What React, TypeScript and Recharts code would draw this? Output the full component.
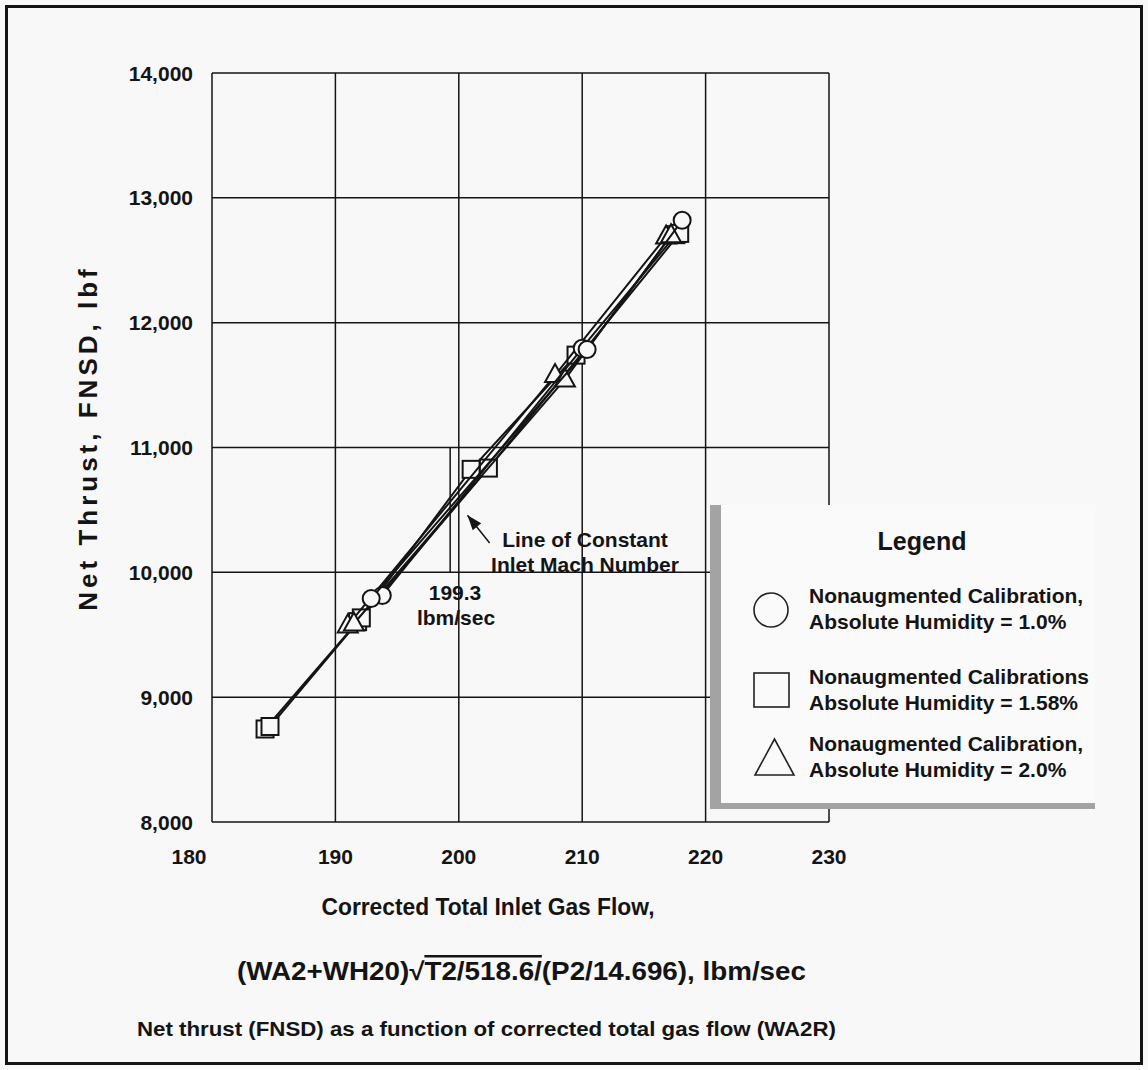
// Net thrust vs corrected total inlet gas flow, three humidity levels
import { ScatterChart, Scatter, XAxis, YAxis, CartesianGrid, ReferenceLine, ReferenceDot } from "recharts";

const FONT = '"Liberation Sans", Arial, Helvetica, sans-serif';
const INK = "#141414";
const PAPER = "#f8f8f8";

const xTicks = [180, 190, 200, 210, 220, 230];
const yTicks = [8000, 9000, 10000, 11000, 12000, 13000, 14000];

// humidity 1.0 %
const circleA = [
  { x: 192.9, y: 9790 },
  { x: 210.4, y: 11785 },
  { x: 218.1, y: 12820 },
];
const circleB = [
  { x: 193.8, y: 9815 },
  { x: 210.0, y: 11795 },
];
// humidity 1.58 %
const squareA = [
  { x: 184.3, y: 8745 },
  { x: 191.8, y: 9605 },
  { x: 201.0, y: 10825 },
  { x: 209.5, y: 11740 },
  { x: 217.6, y: 12705 },
];
const squareB = [
  { x: 184.7, y: 8765 },
  { x: 192.1, y: 9635 },
  { x: 202.4, y: 10835 },
  { x: 217.9, y: 12715 },
];
// humidity 2.0 %
const triangleA = [
  { x: 191.0, y: 9575 },
  { x: 207.8, y: 11580 },
  { x: 216.8, y: 12690 },
];
const triangleB = [
  { x: 191.5, y: 9590 },
  { x: 208.6, y: 11545 },
  { x: 217.2, y: 12700 },
];

const machLine = 199.3;
const arrowTail = { x: 202.5, y: 10235 };
const arrowHead = { x: 200.7, y: 10458 };

const legendItems = [
  { shape: "circle", lines: ["Nonaugmented Calibration,", "Absolute Humidity = 1.0%"] },
  { shape: "square", lines: ["Nonaugmented Calibrations", "Absolute Humidity = 1.58%"] },
  { shape: "triangle", lines: ["Nonaugmented Calibration,", "Absolute Humidity = 2.0%"] },
];

const lineStyle = { stroke: INK, strokeWidth: 2 };

const Circle = (p: any) => <circle cx={p.cx} cy={p.cy} r={8.5} fill={PAPER} stroke={INK} strokeWidth={2} />;
const Square = (p: any) => <rect x={p.cx - 8.5} y={p.cy - 8.5} width={17} height={17} fill={PAPER} stroke={INK} strokeWidth={2} />;
const Triangle = (p: any) => (
  <polygon
    points={`${p.cx},${p.cy - 11} ${p.cx - 10},${p.cy + 7} ${p.cx + 10},${p.cy + 7}`}
    fill={PAPER}
    stroke={INK}
    strokeWidth={2}
  />
);

const ArrowHead = (p: any) => (
  <polygon
    points={`${p.cx},${p.cy} ${p.cx - 15},${p.cy - 5.5} ${p.cx - 15},${p.cy + 5.5}`}
    transform={`rotate(-129.4 ${p.cx} ${p.cy})`}
    fill={INK}
  />
);

function XTick(props: any) {
  const { x, y, payload } = props;
  const shift = payload.value === xTicks[0] ? -23 : 0;
  return (
    <text x={x + shift} y={y} dy={42} textAnchor="middle" fontSize={21} fontWeight={700} fontFamily={FONT} fill={INK}>
      {payload.value}
    </text>
  );
}

function YTick(props: any) {
  const { x, y, payload } = props;
  return (
    <text x={x - 19} y={y} dy={7.5} textAnchor="end" fontSize={21} fontWeight={700} fontFamily={FONT} fill={INK}>
      {payload.value.toLocaleString("en-US")}
    </text>
  );
}

function LegendBox() {
  return (
    <div style={{ position: "absolute", left: 710, top: 505, width: 385, height: 304 }}>
      <svg width={385} height={304}>
        <rect x={0} y={0} width={385} height={304} fill="#fafafa" />
        <rect x={0} y={0} width={11} height={304} fill="#a3a3a3" />
        <rect x={0} y={298} width={385} height={6} fill="#a3a3a3" />
        <text x={212} y={45} textAnchor="middle" fontSize={25} fontWeight={700} fontFamily={FONT} fill={INK}>
          Legend
        </text>
        {legendItems.map((item, i) => {
          const base = [98, 179, 246][i];
          return (
            <g key={item.shape}>
              {item.shape === "circle" && <circle cx={61} cy={105} r={17} fill="none" stroke="#222" strokeWidth={1.6} />}
              {item.shape === "square" && <rect x={44} y={168} width={35} height={34} fill="none" stroke="#222" strokeWidth={1.6} />}
              {item.shape === "triangle" && (
                <polygon points="45,270 84,270 64.5,234" fill="none" stroke="#222" strokeWidth={1.6} />
              )}
              {item.lines.map((t, j) => (
                <text key={j} x={99} y={base + j * 26} fontSize={21} fontWeight={700} fontFamily={FONT} fill={INK}>
                  {t}
                </text>
              ))}
            </g>
          );
        })}
      </svg>
    </div>
  );
}

export default function App() {
  const txt = { fontFamily: FONT, fontWeight: 700, fill: INK } as const;
  return (
    <div style={{ position: "absolute", left: 0, top: 0, width: 1148, height: 1070, background: PAPER }}>
      <ScatterChart width={1148} height={1070} margin={{ top: 73, right: 319, bottom: 208, left: 0 }}>
        <CartesianGrid stroke={INK} strokeWidth={1.5} />
        <XAxis
          type="number"
          dataKey="x"
          domain={[180, 230]}
          ticks={xTicks}
          interval={0}
          height={40}
          axisLine={false}
          tickLine={false}
          tickSize={0}
          tickMargin={0}
          tick={<XTick />}
        />
        <YAxis
          type="number"
          dataKey="y"
          domain={[8000, 14000]}
          ticks={yTicks}
          interval={0}
          width={212}
          axisLine={false}
          tickLine={false}
          tickSize={0}
          tickMargin={0}
          tick={<YTick />}
        />
        <ReferenceLine segment={[{ x: machLine, y: 10000 }, { x: machLine, y: 11000 }]} stroke={INK} strokeWidth={1.5} />
        <ReferenceLine segment={[arrowTail, arrowHead]} stroke={INK} strokeWidth={1.5} />
        <ReferenceDot x={arrowHead.x} y={arrowHead.y} shape={ArrowHead} />
        <Scatter data={squareA} line={lineStyle} lineType="joint" shape={Square} isAnimationActive={false} />
        <Scatter data={squareB} line={lineStyle} lineType="joint" shape={Square} isAnimationActive={false} />
        <Scatter data={triangleA} line={lineStyle} lineType="joint" shape={Triangle} isAnimationActive={false} />
        <Scatter data={triangleB} line={lineStyle} lineType="joint" shape={Triangle} isAnimationActive={false} />
        <Scatter data={circleB} line={lineStyle} lineType="joint" shape={Circle} isAnimationActive={false} />
        <Scatter data={circleA} line={lineStyle} lineType="joint" shape={Circle} isAnimationActive={false} />

        <text x={585} y={547} textAnchor="middle" fontSize={21} {...txt}>Line of Constant</text>
        <text x={585} y={572} textAnchor="middle" fontSize={21} {...txt}>Inlet Mach Number</text>
        <text x={455} y={600} textAnchor="middle" fontSize={21} {...txt}>199.3</text>
        <text x={456} y={625} textAnchor="middle" fontSize={21} {...txt}>lbm/sec</text>

        <text
          transform="rotate(-90 97 438)"
          x={97}
          y={438}
          textAnchor="middle"
          fontSize={26}
          letterSpacing={4}
          {...txt}
        >
          Net Thrust, FNSD, lbf
        </text>
        <text x={488} y={915} textAnchor="middle" fontSize={24} textLength={333} lengthAdjust="spacingAndGlyphs" {...txt}>
          Corrected Total Inlet Gas Flow,
        </text>
        <text x={237} y={980} fontSize={25} textLength={569} lengthAdjust="spacingAndGlyphs" {...txt}>
          <tspan>(WA2+WH20)√</tspan>
          <tspan textDecoration="overline">T2/518.6/</tspan>
          <tspan>(P2/14.696), lbm/sec</tspan>
        </text>
        <text x={137} y={1036} fontSize={21} textLength={699} lengthAdjust="spacingAndGlyphs" {...txt}>
          Net thrust (FNSD) as a function of corrected total gas flow (WA2R)
        </text>
      </ScatterChart>
      <LegendBox />
      <div
        style={{
          position: "absolute",
          left: 5,
          top: 5,
          width: 1132,
          height: 1054,
          border: `3px solid ${INK}`,
          pointerEvents: "none",
        }}
      />
    </div>
  );
}
